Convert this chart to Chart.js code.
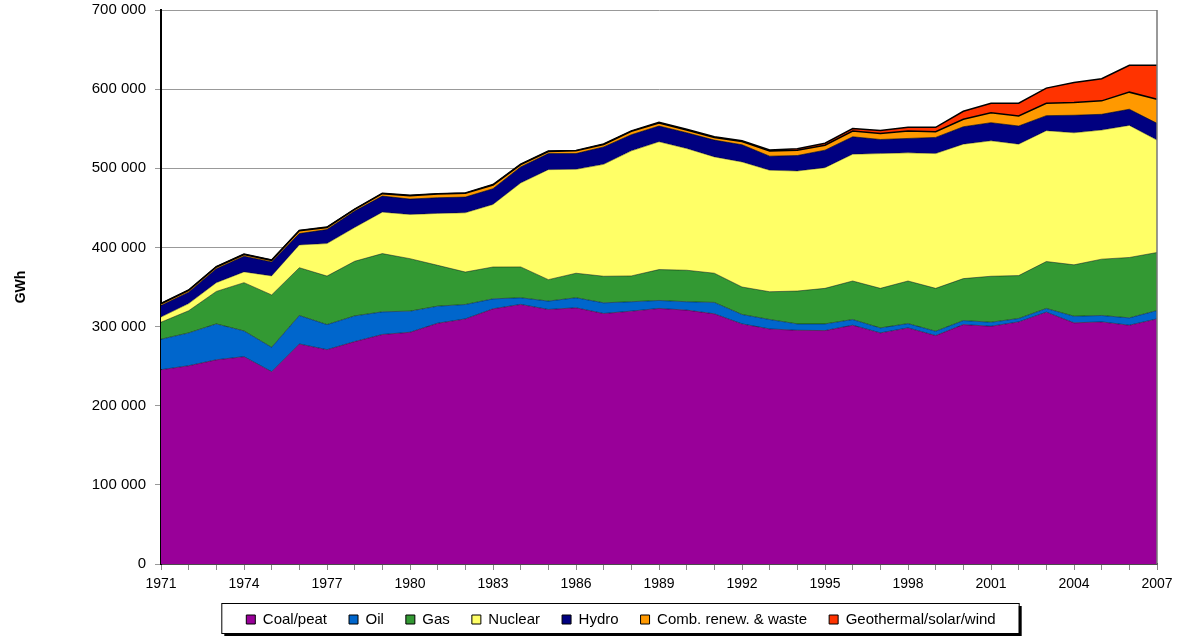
<!DOCTYPE html>
<html>
<head>
<meta charset="utf-8">
<script src="https://cdn.jsdelivr.net/npm/chart.js@4.4.0/dist/chart.umd.min.js"></script>
<style>
    html, body { margin: 0; padding: 0; background: #fff; }
    #wrap { width: 1202px; height: 641px; position: relative; }
</style>
</head>
<body>
<div id="wrap"><canvas id="elecChart"></canvas></div>
<script>
const years = ['1971', '1972', '1973', '1974', '1975', '1976', '1977', '1978', '1979', '1980',
    '1981', '1982', '1983', '1984', '1985', '1986', '1987', '1988', '1989', '1990',
    '1991', '1992', '1993', '1994', '1995', '1996', '1997', '1998', '1999', '2000',
    '2001', '2002', '2003', '2004', '2005', '2006', '2007'];

// GWh per source
const coalPeat = [245500, 250500, 258000, 262000, 243000, 278000, 270800, 281000, 290000, 292800,
    304200, 309700, 322400, 328000, 321600, 323700, 316500, 319500, 322900, 320800,
    316100, 303400, 297000, 295300, 294900, 301700, 292000, 298300, 288600, 302500,
    300400, 305900, 318200, 304700, 305900, 301700, 309700];
const oil = [38500, 41500, 45400, 32500, 30800, 36000, 31700, 32500, 28600, 26700,
    21600, 18200, 12600, 8400, 10600, 12700, 13500, 11900, 10100, 10600,
    14400, 11900, 11900, 8100, 8500, 7200, 6300, 5500, 5500, 5100,
    5100, 4300, 4700, 8400, 8100, 9300, 10600];
const gas = [21500, 28000, 41000, 61000, 66200, 60400, 61300, 69000, 73600, 66300,
    51600, 41000, 40300, 39000, 27100, 31000, 33600, 32600, 39000, 39800,
    36900, 34700, 35100, 41500, 44900, 48700, 50000, 53800, 54200, 53000,
    58100, 54200, 59300, 64900, 71200, 76300, 73300];
const nuclear = [6500, 9000, 11000, 13600, 24000, 28800, 41100, 42700, 52400, 55800,
    65600, 74900, 79000, 106000, 139000, 131300, 141400, 158000, 161500, 153800,
    147000, 158000, 153500, 151700, 152500, 160200, 170300, 161900, 170300, 169900,
    171100, 166100, 165300, 166900, 163100, 166900, 142000];
const hydro = [14600, 14500, 17600, 19800, 17600, 14300, 17700, 20700, 20300, 19500,
    19800, 19800, 19900, 20300, 20300, 19900, 22000, 20400, 19900, 19900,
    21200, 21700, 17800, 19500, 22100, 22000, 17800, 18200, 20400, 22000,
    22900, 22900, 19000, 22100, 19900, 20400, 21200];
const combRenew = [2200, 2200, 2300, 2200, 2100, 3500, 2600, 2100, 3000, 4200,
    4600, 4700, 4700, 3000, 2600, 3400, 3000, 4200, 3800, 3400,
    3400, 4200, 6700, 6800, 6300, 7200, 7700, 9300, 7200, 9400,
    12700, 12700, 15700, 16000, 17000, 21600, 30500];
const geoSolarWind = [500, 500, 500, 500, 500, 500, 500, 500, 500, 500,
    500, 500, 500, 500, 600, 600, 700, 700, 800, 900,
    900, 1000, 1100, 1700, 2500, 3200, 3800, 4700, 5500, 10100,
    11900, 16100, 19100, 25500, 27900, 33900, 42800];

const fontFamily = "'Liberation Sans', Arial, sans-serif";

function makeSeries(label, data, color, border, width, fill) {
    return {
        label: label,
        data: data,
        backgroundColor: color,
        borderColor: border,
        borderWidth: width,
        fill: fill,
        pointRadius: 0,
        tension: 0
    };
}

function formatThousands(v) {
    return String(v).replace(/\B(?=(\d{3})+(?!\d))/g, ' ');
}

// white box with shadow behind the legend items
const legendBox = {
    id: 'legendBox',
    beforeDraw(chart) {
        const boxes = chart.legend && chart.legend.legendHitBoxes;
        if (!boxes || !boxes.length) return;
        let l = Infinity, r = -Infinity, t = Infinity, b = -Infinity;
        boxes.forEach(h => {
            l = Math.min(l, h.left);
            r = Math.max(r, h.left + h.width);
            t = Math.min(t, h.top);
            b = Math.max(b, h.top + h.height);
        });
        const x = l - 25, y = t - 9, w = (r - l) + 48, h = (b - t) + 15;
        const ctx = chart.ctx;
        ctx.save();
        ctx.fillStyle = '#000';
        ctx.fillRect(x + 3, y + 3, w, h);
        ctx.fillStyle = '#fff';
        ctx.fillRect(x, y, w, h);
        ctx.strokeStyle = '#000';
        ctx.lineWidth = 1;
        ctx.strokeRect(x + 0.5, y + 0.5, w, h);
        ctx.restore();
    }
};

// grey frame line on the right side of the plot
const plotFrame = {
    id: 'plotFrame',
    afterDatasetsDraw(chart) {
        const a = chart.chartArea;
        const ctx = chart.ctx;
        ctx.save();
        ctx.strokeStyle = '#777';
        ctx.lineWidth = 1.5;
        ctx.beginPath();
        ctx.moveTo(a.right, a.top);
        ctx.lineTo(a.right, a.bottom);
        ctx.stroke();
        ctx.restore();
    }
};

const elecChart = new Chart(document.getElementById('elecChart').getContext('2d'), {
    type: 'line',
    data: {
        labels: years,
        datasets: [
            makeSeries('Coal/peat', coalPeat, '#990099', 'rgba(0,0,0,0.45)', 1, 'origin'),
            makeSeries('Oil', oil, '#0066CC', 'rgba(0,0,0,0.45)', 1, '-1'),
            makeSeries('Gas', gas, '#339933', 'rgba(0,0,0,0.45)', 1, '-1'),
            makeSeries('Nuclear', nuclear, '#FFFF66', 'rgba(0,0,0,0.4)', 1, '-1'),
            makeSeries('Hydro', hydro, '#000080', 'rgba(0,0,0,0.6)', 1, '-1'),
            makeSeries('Comb. renew. & waste', combRenew, '#FF9900', '#000', 1.5, '-1'),
            makeSeries('Geothermal/solar/wind', geoSolarWind, '#FF3300', '#000', 1.5, '-1')
        ]
    },
    options: {
        responsive: true,
        maintainAspectRatio: false,
        animation: false,
        layout: {
            padding: { left: 85, right: 45, top: 10, bottom: 4 }
        },
        scales: {
            x: {
                offset: false,
                afterFit: (scale) => { scale.height = 26; },
                grid: {
                    drawOnChartArea: false,
                    drawTicks: true,
                    tickLength: 6,
                    color: '#888'
                },
                border: { color: '#000', width: 1.5 },
                ticks: {
                    autoSkip: false,
                    maxRotation: 0,
                    padding: 6,
                    color: '#000',
                    font: { family: fontFamily, size: 14 },
                    callback: function(val, i) {
                        return i % 3 === 0 ? this.getLabelForValue(val) : '';
                    }
                }
            },
            y: {
                stacked: true,
                min: 0,
                max: 700000,
                afterFit: (scale) => {
                    scale.width = 76;
                    scale.paddingTop = 0;
                    scale.paddingBottom = 0;
                },
                grid: {
                    color: '#999',
                    tickLength: 6
                },
                border: { color: '#000', width: 2 },
                ticks: {
                    stepSize: 100000,
                    padding: 9,
                    color: '#000',
                    font: { family: fontFamily, size: 15 },
                    callback: (v) => formatThousands(v)
                },
                title: {
                    display: true,
                    text: 'GWh',
                    color: '#000',
                    font: { family: fontFamily, size: 14, weight: 'bold' },
                    padding: { top: -72, bottom: 0 }
                }
            }
        },
        plugins: {
            tooltip: { enabled: false },
            legend: {
                position: 'bottom',
                labels: {
                    boxWidth: 9,
                    boxHeight: 9,
                    padding: 22,
                    color: '#000',
                    font: { family: fontFamily, size: 15 },
                    generateLabels: function(chart) {
                        const items = Chart.defaults.plugins.legend.labels.generateLabels(chart);
                        return items.map(item => Object.assign(item, { strokeStyle: '#000', lineWidth: 1 }));
                    }
                }
            }
        }
    },
    plugins: [legendBox, plotFrame]
});
</script>
</body>
</html>
